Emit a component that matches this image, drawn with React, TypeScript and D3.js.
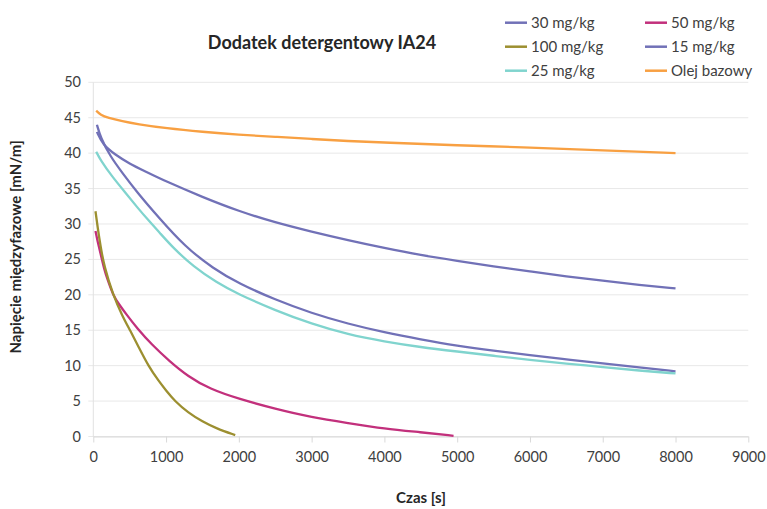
import React, { useEffect, useRef } from 'react';
import * as d3 from 'd3';

// czas [s] / napięcie [mN/m]
const olejT = [40, 100, 200, 400, 600, 1000, 1500, 2000, 2500, 3000, 3500, 4000, 5000, 6000, 7000, 8000];
const olejV = [46.0, 45.4, 45.0, 44.5, 44.1, 43.5, 43.0, 42.6, 42.3, 42.0, 41.7, 41.5, 41.1, 40.8, 40.4, 40.0];

const c30T = [50, 130, 300, 500, 700, 1000, 1500, 2000, 2500, 3000, 3500, 4000, 4500, 5000, 5500, 6000, 6500, 7000, 7500, 8000];
const c30V = [43.0, 41.2, 39.8, 38.5, 37.5, 36.0, 33.8, 31.8, 30.2, 28.9, 27.7, 26.6, 25.6, 24.8, 24.0, 23.3, 22.6, 22.0, 21.4, 20.9];

const c15T = [50, 100, 230, 400, 600, 900, 1260, 1650, 2000, 2500, 3000, 3500, 4000, 4500, 5000, 5500, 6000, 6500, 7000, 7500, 8000];
const c15V = [44.0, 42.2, 39.6, 37.2, 34.5, 30.9, 26.8, 23.7, 21.6, 19.3, 17.4, 15.9, 14.7, 13.7, 12.8, 12.1, 11.5, 10.9, 10.3, 9.75, 9.2];

const c25T = [40, 100, 250, 450, 600, 750, 917, 1100, 1374, 1700, 1970, 2500, 3000, 3500, 4000, 4500, 5000, 5500, 6000, 6500, 7000, 7500, 8000];
const c25V = [40.2, 39.0, 36.8, 34.3, 32.4, 30.6, 28.7, 26.6, 24.0, 21.7, 20.2, 17.8, 15.9, 14.4, 13.4, 12.6, 12.0, 11.4, 10.8, 10.3, 9.8, 9.3, 8.9];

const c50T = [30, 60, 100, 150, 200, 275, 350, 450, 600, 800, 1050, 1300, 1600, 2000, 2500, 3000, 3500, 4000, 4500, 4950];
const c50V = [29.0, 27.5, 25.8, 23.6, 22.0, 19.9, 18.7, 17.3, 15.3, 13.0, 10.6, 8.5, 6.7, 5.3, 3.9, 2.7, 1.9, 1.1, 0.6, 0.1];

const c100T = [30, 60, 100, 150, 270, 400, 505, 630, 755, 900, 1000, 1120, 1300, 1500, 1700, 1950];
const c100V = [31.8, 29.5, 26.8, 24.0, 20.0, 17.0, 15.0, 12.5, 10.0, 7.8, 6.5, 5.0, 3.4, 2.1, 1.1, 0.2];

const xTicks = [0, 1000, 2000, 3000, 4000, 5000, 6000, 7000, 8000, 9000];
const yTicks = [0, 5, 10, 15, 20, 25, 30, 35, 40, 45, 50];

const seriesNames = ['30 mg/kg', '50 mg/kg', '100 mg/kg', '15 mg/kg', '25 mg/kg', 'Olej bazowy'];
const seriesColors = ['#7171b7', '#c2307c', '#9c8f30', '#7171b7', '#80d4ce', '#f8a042'];
const seriesT = [c30T, c50T, c100T, c15T, c25T, olejT];
const seriesV = [c30V, c50V, c100V, c15V, c25V, olejV];

const W = 767;
const H = 509;
const FONT = 'Lato, "Open Sans", sans-serif';

export default function App() {
  const ref = useRef<SVGSVGElement>(null);

  useEffect(() => {
    const svg = d3.select(ref.current);
    svg.selectAll('*').remove();

    const x = d3.scaleLinear().domain([0, 9000]).range([93.3, 748.3]);
    const y = d3.scaleLinear().domain([0, 50]).range([436.5, 82.3]);

    // siatka pozioma
    svg.append('g')
      .selectAll('line')
      .data(yTicks)
      .join('line')
      .attr('x1', x(0) - 5)
      .attr('x2', x(9000))
      .attr('y1', d => y(d))
      .attr('y2', d => y(d))
      .attr('stroke', '#e8e8e8')
      .attr('stroke-width', 1);

    // oś Y
    svg.append('line')
      .attr('x1', x(0)).attr('x2', x(0))
      .attr('y1', y(50)).attr('y2', y(0))
      .attr('stroke', '#e2e2e2');

    // oś X
    const xAxis = d3.axisBottom(x)
      .tickValues(xTicks)
      .tickFormat(d3.format('d'))
      .tickSize(6)
      .tickSizeOuter(0)
      .tickPadding(9);
    const gx = svg.append('g')
      .attr('transform', `translate(0, ${y(0)})`)
      .call(xAxis);
    gx.select('.domain').attr('stroke', '#d9d9d9');
    gx.selectAll('.tick line').attr('stroke', '#d9d9d9');
    gx.selectAll('.tick text')
      .attr('fill', '#404040')
      .style('font-family', FONT)
      .style('font-size', '14.5px');

    // etykiety Y
    svg.append('g')
      .selectAll('text')
      .data(yTicks)
      .join('text')
      .attr('x', 81)
      .attr('y', d => y(d))
      .attr('dy', '0.35em')
      .attr('text-anchor', 'end')
      .attr('fill', '#404040')
      .style('font-family', FONT)
      .style('font-size', '14.5px')
      .text(d => d);

    // linie
    const line = d3.line<[number, number]>()
      .x(d => x(d[0]))
      .y(d => y(d[1]))
      .curve(d3.curveBasis);

    // kolejność rysowania: olej, 30, 15, 25, 50, 100
    const drawOrder = [5, 0, 3, 4, 1, 2];
    drawOrder.forEach(i => {
      const pts = seriesT[i].map((t, k) => [t, seriesV[i][k]] as [number, number]);
      svg.append('path')
        .datum(pts)
        .attr('d', line)
        .attr('fill', 'none')
        .attr('stroke', seriesColors[i])
        .attr('stroke-width', 2.3)
        .attr('stroke-linejoin', 'round');
    });

    // tytuł
    svg.append('text')
      .attr('x', 322)
      .attr('y', 49)
      .attr('text-anchor', 'middle')
      .attr('fill', '#262626')
      .style('font-family', FONT)
      .style('font-weight', 'bold')
      .style('font-size', '18px')
      .text('Dodatek detergentowy IA24');

    // tytuły osi
    svg.append('text')
      .attr('x', 421)
      .attr('y', 503)
      .attr('text-anchor', 'middle')
      .attr('fill', '#262626')
      .style('font-family', FONT)
      .style('font-weight', 'bold')
      .style('font-size', '15px')
      .text('Czas [s]');

    svg.append('text')
      .attr('transform', `translate(21, 247) rotate(-90)`)
      .attr('text-anchor', 'middle')
      .attr('fill', '#262626')
      .style('font-family', FONT)
      .style('font-weight', 'bold')
      .style('font-size', '15px')
      .text('Napięcie międzyfazowe [mN/m]');

    // legenda
    const lg = svg.append('g');
    seriesNames.forEach((name, i) => {
      const col = i % 2;
      const row = Math.floor(i / 2);
      const lx = col === 0 ? 505 : 645;
      const ly = 22.7 + row * 24;
      lg.append('line')
        .attr('x1', lx).attr('x2', lx + 22)
        .attr('y1', ly).attr('y2', ly)
        .attr('stroke', seriesColors[i])
        .attr('stroke-width', 2.5);
      lg.append('text')
        .attr('x', lx + 26)
        .attr('y', ly)
        .attr('dy', '0.35em')
        .attr('fill', '#404040')
        .style('font-family', FONT)
        .style('font-size', '15px')
        .text(name);
    });
  }, []);

  return (
    <svg ref={ref} width={W} height={H} style={{ display: 'block', position: 'absolute', left: 0, top: 0, background: '#fff' }} />
  );
}
